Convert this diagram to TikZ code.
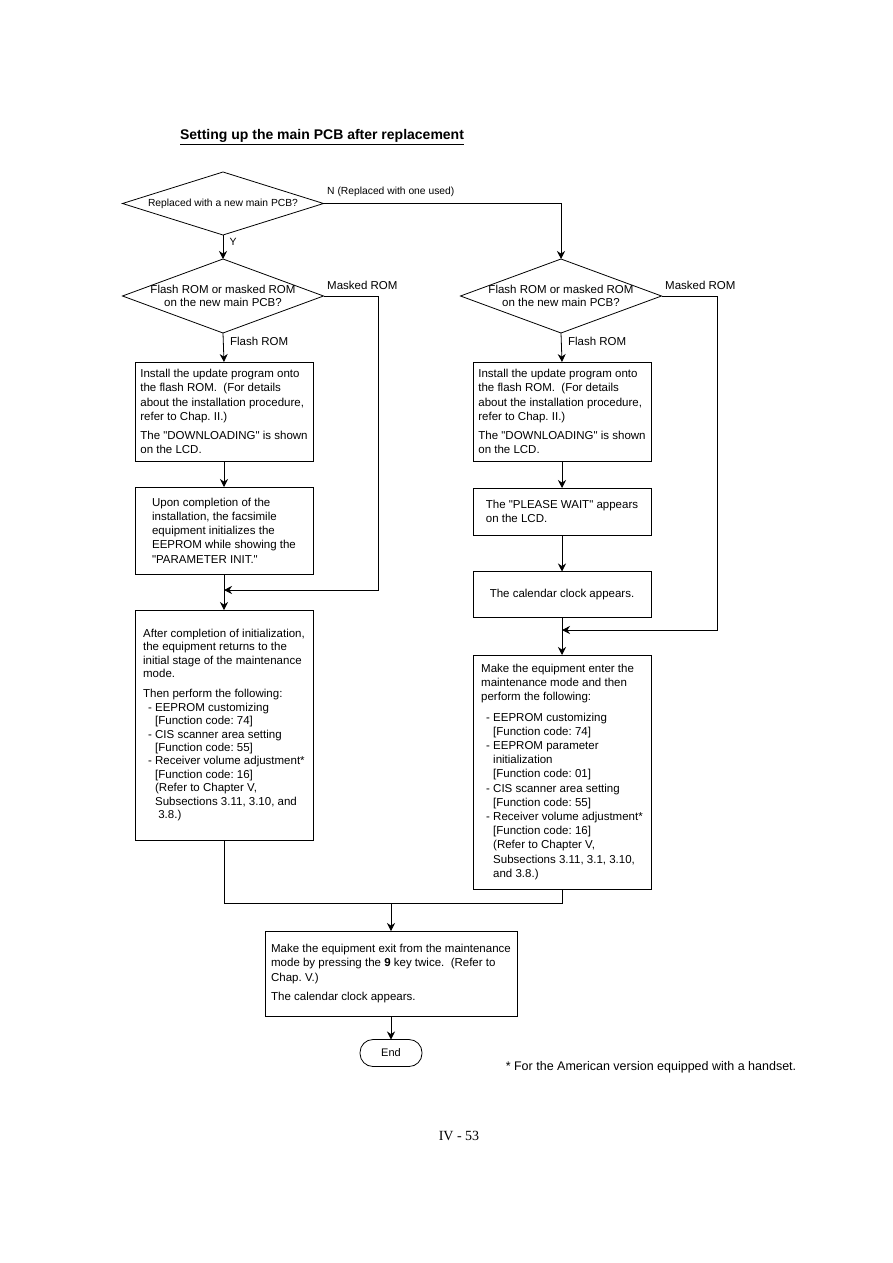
\documentclass[tikz,border=0pt]{standalone}
\usepackage{fontspec}
\setmainfont{Liberation Sans}[Ligatures=TeXOff]
\newfontfamily\pagefont{Liberation Serif}
\usetikzlibrary{positioning, arrows.meta, shapes.geometric}
\frenchspacing

\begin{document}
\begin{tikzpicture}[x=1pt, y=-1pt, line width=0.8pt,
    every node/.style={font=\fontsize{11.5}{14.2}\selectfont},
    box/.style={draw, rectangle, align=left, minimum width=178pt, inner sep=0pt, outer sep=0pt},
    ask/.style={draw, diamond, minimum width=201pt, minimum height=74pt, inner sep=0pt, outer sep=0pt},
    arr/.style={-{Stealth[length=8pt, width=8pt]}}]
    \useasboundingbox (0,0) rectangle (893,1263);

    % Title
    \node (title) at (322,137) {\fontsize{14}{16}\selectfont\bfseries\underline{Setting up the main PCB after replacement}};

    % Decisions
    \node[ask, minimum height=63pt] (newpcb) at (223,203.5) {};
    \node (newpcbtxt) at (newpcb) {\fontsize{10.3}{12}\selectfont Replaced with a new main PCB?};
    \node[ask] (romL) at (223,296) {};
    \node[align=center, font=\fontsize{11.5}{13}\selectfont] (romLtxt) at (romL) {Flash ROM or masked ROM\\on the new main PCB?};
    \node[ask] (romR) at (561,296) {};
    \node[align=center, font=\fontsize{11.5}{13}\selectfont] (romRtxt) at (romR) {Flash ROM or masked ROM\\on the new main PCB?};

    % Left column
    \node[box, minimum height=99pt] (flashL) at (224,411.5) {Install the update program onto\\the flash ROM.\ \ (For details\\about the installation procedure,\\refer to Chap. II.)\\[5pt]The "DOWNLOADING" is shown\\on the LCD.};
    \node[box, minimum height=87pt] (initL) at (224,530.5) {Upon completion of the\\installation, the facsimile\\equipment initializes the\\EEPROM while showing the\\"PARAMETER INIT."};
    \node[box, minimum height=230pt, font=\fontsize{11.5}{13.4}\selectfont] (maintL) at (224,725) {After completion of initialization,\\the equipment returns to the\\initial stage of the maintenance\\mode.\\[7pt]Then perform the following:\\
      \hspace*{5pt}- EEPROM customizing\\\hspace*{12pt}[Function code: 74]\\
      \hspace*{5pt}- CIS scanner area setting\\\hspace*{12pt}[Function code: 55]\\
      \hspace*{5pt}- Receiver volume adjustment*\\\hspace*{12pt}[Function code: 16]\\
      \hspace*{12pt}(Refer to Chapter V,\\\hspace*{12pt}Subsections 3.11, 3.10, and\\\hspace*{12pt}\ 3.8.)};

    % Right column
    \node[box, minimum height=99pt] (flashR) at (562,411.5) {Install the update program onto\\the flash ROM.\ \ (For details\\about the installation procedure,\\refer to Chap. II.)\\[5pt]The "DOWNLOADING" is shown\\on the LCD.};
    \node[box, minimum height=47pt] (waitR) at (562,511.5) {The "PLEASE WAIT" appears\\on the LCD.};
    \node[box, minimum height=46pt] (clockR) at (562,594.5) {The calendar clock appears.};
    \node[box, minimum height=234pt] (maintR) at (562,772) {Make the equipment enter the\\maintenance mode and then\\perform the following:\\[6pt]
      \hspace*{5pt}- EEPROM customizing\\\hspace*{12pt}[Function code: 74]\\
      \hspace*{5pt}- EEPROM parameter\\\hspace*{12pt}initialization\\\hspace*{12pt}[Function code: 01]\\
      \hspace*{5pt}- CIS scanner area setting\\\hspace*{12pt}[Function code: 55]\\
      \hspace*{5pt}- Receiver volume adjustment*\\\hspace*{12pt}[Function code: 16]\\
      \hspace*{12pt}(Refer to Chapter V,\\\hspace*{12pt}Subsections 3.11, 3.1, 3.10,\\\hspace*{12pt}and 3.8.)};

    % Exit and end
    \node[box, minimum width=252pt, minimum height=85pt] (exitbox) at (391,973.5) {Make the equipment exit from the maintenance\\mode by pressing the \textbf{9} key twice.\ \ (Refer to\\Chap. V.)\\[5pt]The calendar clock appears.};
    \node[draw, rounded corners=13pt, minimum width=62pt, minimum height=27pt, inner sep=0pt, outer sep=0pt] (endnode) at (391,1053) {\fontsize{11}{12}\selectfont End};

    \coordinate (joinL) at (224,590);
    \coordinate (joinR) at (562,630);
    \coordinate (merge) at (391,903);

    % Connectors
    \draw[arr] (newpcb.south) -- node[right, pos=0.3, xshift=3pt, font=\fontsize{10.5}{12}\selectfont] (ylabel) {Y} (romL.north);
    \draw[arr] (newpcb.east) node[above right, yshift=3pt, font=\fontsize{10.3}{12}\selectfont] (nlabel) {N (Replaced with one used)} -| (romR.north);
    \draw[arr] (romL.south) -- node[right, pos=0.3, xshift=3pt] (flashLlabel) {Flash ROM} (flashL.north);
    \draw[arr] (romR.south) -- node[right, pos=0.3, xshift=3pt] (flashRlabel) {Flash ROM} (flashR.north);
    \draw[arr] (romL.east) node[above right, yshift=3pt] (maskLlabel) {Masked ROM} -- ++(55,0) |- (joinL);
    \draw[arr] (romR.east) node[above right, yshift=3pt] (maskRlabel) {Masked ROM} -- ++(56,0) |- (joinR);
    \draw[arr] (flashL) -- (initL);
    \draw[arr] (initL) -- (maintL);
    \draw[arr] (flashR) -- (waitR);
    \draw[arr] (waitR) -- (clockR);
    \draw[arr] (clockR) -- (maintR);
    \draw (maintL.south) |- (merge) -| (maintR.south);
    \draw[arr] (merge) -- (exitbox.north);
    \draw[arr] (exitbox) -- (endnode);

    % Footnote and page number
    \node (footnote) at (651,1067) {\fontsize{12.5}{14}\selectfont * For the American version equipped with a handset.};
    \node (pagenum) at (459,1136) {\pagefont\fontsize{14}{16}\selectfont IV - 53};
\end{tikzpicture}
\end{document}
